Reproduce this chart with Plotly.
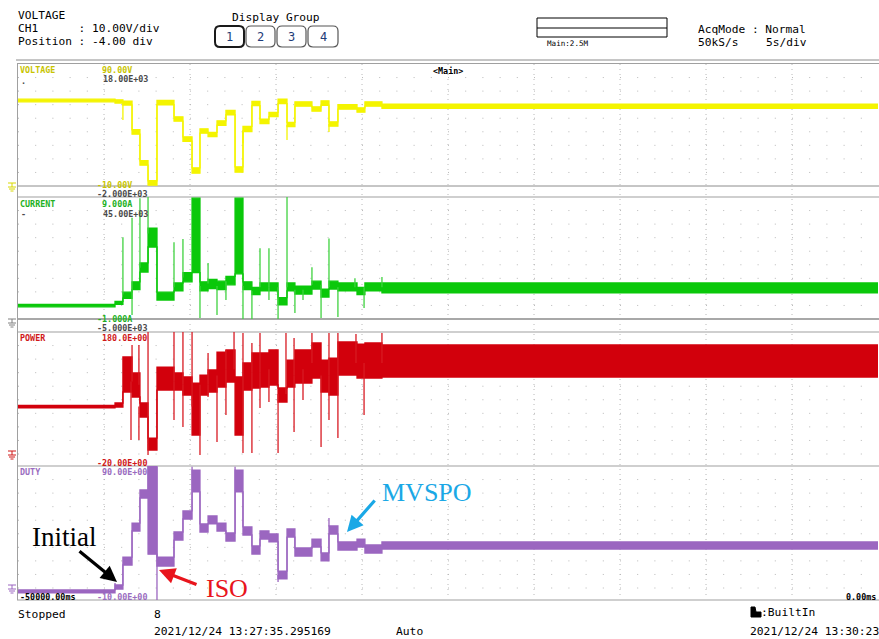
import plotly.graph_objects as go

W, H = 879, 639
MONO = "DejaVu Sans Mono"
SERIF = "Liberation Serif"

# ---------------- data ----------------
# switching instants [s] (segment start times), trigger at 0 s, 5 s/div
seg_t = [-50.00, -44.36, -43.90, -43.37, -42.91, -42.44, -41.92, -40.93, -40.41, -39.88,
         -39.42, -38.95, -38.43, -37.91, -37.38, -36.92, -36.40, -35.93, -35.41, -34.88,
         -34.36, -33.90, -32.91, -32.38, -31.92, -31.40, -30.29, -29.83, -28.84]
t_end = 0.0

# VOLTAGE [V] envelope per segment
volt_lo = [59.0, 58.0, 56.4, 32.5, 7.1, -9.3, 56.6, 43.1, 26.7, 0.5, 33.3, 30.4, 39.8, 48.4, 1.3,
           34.5, 55.8, 41.1, 46.8, 57.5, 38.6, 55.4, 51.3, 56.2, 39.0, 53.0, 50.5, 55.4, 53.6]
volt_hi = [61.2, 60.6, 59.6, 36.1, 10.7, -5.7, 60.2, 46.7, 30.3, 4.9, 36.9, 34.0, 43.4, 52.0, 5.7,
           38.9, 59.4, 44.7, 50.4, 61.1, 42.2, 59.0, 54.9, 59.8, 42.6, 56.6, 54.1, 59.0, 57.0]
volt_spk_t = [-43.90, -36.92, -34.36, -31.92]
volt_spk_from = [58.0, 36.0, 40.0, 40.8]
volt_spk_to = [44.0, 25.0, 27.7, 34.3]

# CURRENT [A]
curr_lo = [0.0, 0.2, 0.7, 1.4, 2.85, 4.9, 0.55, 1.3, 2.05, 2.8, 1.3, 1.5, 1.4, 1.8, 2.7,
           1.4, 1.0, 1.3, 1.3, 0.15, 1.3, 1.05, 1.45, 0.8, 1.45, 1.3, 1.0, 1.3, 1.15]
curr_hi = [0.2, 0.45, 1.2, 2.05, 3.6, 6.45, 1.2, 1.95, 2.8, 8.9, 2.05, 2.25, 2.1, 2.5, 8.9,
           2.05, 1.6, 1.95, 1.95, 0.75, 1.95, 1.7, 2.1, 1.45, 2.1, 1.95, 1.6, 1.95, 1.95]
curr_spk_t = [-43.90, -43.37, -43.37, -42.91, -42.44, -40.93, -40.41, -39.42, -38.95, -38.43,
              -37.91, -36.92, -36.40, -35.93, -35.41, -35.41, -34.88, -34.36, -33.90, -33.43,
              -32.91, -32.38, -31.92, -31.40, -30.41, -29.88, -28.84]
curr_spk_from = [1.0, 1.7, 1.7, 3.2, 6.0, 1.6, 2.4, 1.7, 1.9, 1.7, 2.1, 1.7, 1.3, 1.6, 1.6,
                 1.6, 1.6, 1.6, 1.4, 1.4, 1.8, 1.8, 1.6, 1.6, 1.6, 1.6, 1.6]
curr_spk_to = [5.7, 7.3, -0.67, 8.9, 9.0, 5.3, 5.55, -0.92, 3.6, -0.67, 0.55, -1.0, -1.0, 4.8,
               0.55, 4.8, -1.0, 9.0, -0.5, 0.55, 3.25, -0.92, 5.6, -0.84, 2.35, -0.1, 2.45]

# POWER [W]
pow_lo = [57.5, 59.0, 83.2, 75.2, 42.9, -10.3, 86.4, 86.4, 78.4, 13.9, 78.4, 83.2, 91.3, 99.4, 13.9,
          86.4, 89.7, 91.3, 94.5, 67.1, 91.3, 97.7, 105.8, 83.2, 78.4, 110.6, 105.8, 105.8, 107.4]
pow_hi = [61.5, 65.5, 139.7, 113.9, 65.5, 9.0, 123.5, 113.9, 107.4, 97.7, 110.6, 118.7, 147.7, 151.0, 107.4,
          130.0, 146.1, 146.1, 151.0, 89.7, 134.8, 151.0, 162.3, 134.8, 138.0, 163.9, 160.6, 162.3, 159.0]
pow_spk_t = [-43.43, -43.37, -42.97, -42.97, -42.44, -42.44, -40.93, -40.93, -40.41, -40.41,
             -39.88, -39.42, -38.95, -38.95, -38.43, -37.91, -37.91, -37.44, -36.92, -36.92,
             -36.40, -36.40, -35.93, -35.93, -35.41, -34.88, -34.42, -33.95, -33.95, -33.43,
             -32.91, -32.38, -31.92, -31.92, -31.40, -31.40, -30.35, -29.88, -28.84]
pow_spk_from = [100, 100, 95, 60, 0, 0, 100, 100, 95, 95, 60, 95, 95, 95, 110, 120, 120, 120, 110, 110,
                115, 115, 115, 115, 120, 80, 80, 110, 110, 120, 130, 110, 110, 110, 135, 135, 130, 130, 130]
pow_spk_to = [5.8, 159, 159, 5.8, 180, -18.4, 180, 38.1, 180, 26.8, 180, -18.4, 146.1, 75.2, 2.6,
              46.1, 151, 180, 178.4, -15.1, 162.3, -15.1, 178.4, 57.4, 67.1, -15.1, 178.4, 170.3,
              18.7, 70.3, 178.4, -5.4, 178.4, 38.1, 178.4, 9.0, 176.8, 46.1, 178.4]

# DUTY [%]
duty_lo = [-10.8, -7.7, 11.4, 38.4, 64.6, 20.0, 10.6, 31.2, 47.9, 69.4, 37.6, 44.0, 38.4, 30.4, 69.4,
           35.2, 20.1, 32.0, 29.7, 0.3, 33.6, 18.5, 25.7, 14.6, 36.0, 23.3, 25.7, 20.9, 24.1]
duty_hi = [-8.4, -4.5, 17.7, 44.7, 71.0, 89.5, 17.7, 37.6, 54.3, 86.8, 44.0, 50.3, 44.7, 36.8, 86.8,
           41.6, 26.5, 38.4, 36.0, 6.6, 40.0, 24.9, 32.0, 21.0, 42.4, 29.7, 32.0, 27.3, 29.7]
duty_spk_t = [-44.36, -42.44, -41.92, -39.88, -37.38, -34.88, -31.92]
duty_spk_from = [-8.4, 70, 89.5, 70, 70, 3.5, 42]
duty_spk_to = [-2.9, 90, -16.4, 89.5, 89.5, -2.1, 48.7]

# ---------------- helpers ----------------
def px(x):
    return x / W


def py(y):
    return 1 - y / H


fig = go.Figure()

channels = [
    ("y", volt_lo, volt_hi, "#f4f400", volt_spk_t, volt_spk_from, volt_spk_to, "#f4f400"),
    ("y2", curr_lo, curr_hi, "#0ac80a", curr_spk_t, curr_spk_from, curr_spk_to, "#3fd23f"),
    ("y3", pow_lo, pow_hi, "#d2000c", pow_spk_t, pow_spk_from, pow_spk_to, "#d81a22"),
    ("y4", duty_lo, duty_hi, "#9b66c0", duty_spk_t, duty_spk_from, duty_spk_to, "#9b66c0"),
]

for yax, lo, hi, col, st, sf, sto, scol in channels:
    xs = seg_t + [t_end]
    ylo = lo + [lo[-1]]
    yhi = hi + [hi[-1]]
    fig.add_trace(go.Scatter(x=xs, y=ylo, mode="lines", line=dict(color=col, width=1.3, shape="hv"),
                             xaxis="x", yaxis=yax, hoverinfo="skip"))
    fig.add_trace(go.Scatter(x=xs, y=yhi, mode="lines", line=dict(color=col, width=1.3, shape="hv"),
                             fill="tonexty", fillcolor=col, xaxis="x", yaxis=yax, hoverinfo="skip"))
    sx, sy = [], []
    for t, a, b in zip(st, sf, sto):
        sx += [t, t, None]
        sy += [a, b, None]
    fig.add_trace(go.Scatter(x=sx, y=sy, mode="lines", line=dict(color=scol, width=1.3),
                             xaxis="x", yaxis=yax, hoverinfo="skip"))

shapes = []
anns = []


def hline(y, x0, x1, color, width=1.0, dash="solid"):
    shapes.append(dict(type="line", xref="paper", yref="paper", x0=px(x0), x1=px(x1), y0=py(y), y1=py(y),
                       line=dict(color=color, width=width, dash=dash), layer="below"))


def vline(x, y0, y1, color, width=1.0, dash="solid"):
    shapes.append(dict(type="line", xref="paper", yref="paper", x0=px(x), x1=px(x), y0=py(y0), y1=py(y1),
                       line=dict(color=color, width=width, dash=dash), layer="below"))


def text(s, x, y, size=11.2, color="#000000", anchor="left", family=MONO):
    anns.append(dict(text=s, x=px(x), y=py(y), xref="paper", yref="paper", xanchor=anchor, yanchor="middle",
                     showarrow=False, font=dict(family=family, size=size, color=color), borderpad=0))


def rrect(x0, y0, x1, y1, r, color, width):
    p = (f"M{px(x0 + r)},{py(y0)} L{px(x1 - r)},{py(y0)} Q{px(x1)},{py(y0)} {px(x1)},{py(y0 + r)} "
         f"L{px(x1)},{py(y1 - r)} Q{px(x1)},{py(y1)} {px(x1 - r)},{py(y1)} L{px(x0 + r)},{py(y1)} "
         f"Q{px(x0)},{py(y1)} {px(x0)},{py(y1 - r)} L{px(x0)},{py(y0 + r)} Q{px(x0)},{py(y0)} {px(x0 + r)},{py(y0)} Z")
    shapes.append(dict(type="path", xref="paper", yref="paper", path=p, line=dict(color=color, width=width)))


def ground(y, color):
    shapes.append(dict(type="line", xref="paper", yref="paper", x0=px(8), x1=px(16), y0=py(y), y1=py(y),
                       line=dict(color=color, width=1)))
    shapes.append(dict(type="line", xref="paper", yref="paper", x0=px(12), x1=px(12), y0=py(y), y1=py(y + 4),
                       line=dict(color=color, width=1)))
    for dy, half in ((4, 4), (6, 3), (8, 1.5)):
        shapes.append(dict(type="line", xref="paper", yref="paper", x0=px(12 - half), x1=px(12 + half),
                           y0=py(y + dy), y1=py(y + dy), line=dict(color=color, width=1)))


# ---------------- grid & frames ----------------
GRID = "#b8b8b8"
panel_tops = [64, 197, 332, 466]
panel_rows = [8, 8, 9, 9]
for top, nrow in zip(panel_tops, panel_rows):
    for k in range(1, nrow + 1):
        hline(top + k * 122 / 9, 18, 878, GRID, 1, "1px,16.2px")
for k in range(1, 10):
    vline(18 + 86 * k, 64, 600, GRID, 1, "1px,4px")

hline(63.5, 17, 879, "#a0a0a0", 1)
hline(186, 17, 879, "#8c8c8c", 1)
hline(197, 17, 879, "#cfcfcf", 2)
hline(319, 17, 879, "#a8a8a8", 2)
hline(332, 17, 879, "#cfcfcf", 2)
hline(466, 17, 879, "#cfcfcf", 2)
hline(600, 17, 879, "#cfcfcf", 2)
vline(17.5, 63.5, 600, "#a0a0a0", 1)
hline(60, 16, 879, "#8c8c8c", 1)

ground(183, "#d8d800")
ground(319, "#808080")
ground(451, "#d01818")
ground(585, "#9b66c0")

# ---------------- header ----------------
text("VOLTAGE", 17, 15.5)
text("CH1      : 10.00V/div", 17, 28.5)
text("Position : -4.00 div", 17, 41.5)
text("Display Group", 231, 17)
boxes = [(215, 26, 244, 47), (246, 26, 275, 47), (277, 26, 306, 47), (308, 26, 338, 47)]
for i, (x0, y0, x1, y1) in enumerate(boxes):
    rrect(x0, y0, x1, y1, 5, "#1a1a1a" if i == 0 else "#555555", 2 if i == 0 else 1.2)
    text(str(i + 1), (x0 + x1) / 2, 36.5, 12, "#1e3c78", "center")
shapes.append(dict(type="rect", xref="paper", yref="paper", x0=px(537), x1=px(667), y0=py(18), y1=py(37),
                   line=dict(color="#000000", width=1)))
hline(28, 537, 667, "#000000", 1)
text("Main:2.5M", 546, 43.5, 7.6)
text("AcqMode : Normal", 697, 29.5, 11.2)
text("50kS/s", 697, 42, 11.2)
text("5s/div", 765, 42, 11.2)

# ---------------- panel labels ----------------
S = 8.4
YEL, GRY, GRN, RED, PUR = "#c8c400", "#4a4a4a", "#22b022", "#d01818", "#9a6cc0"
text("<b>VOLTAGE</b>", 19, 69.5, S, YEL)
text("<b>90.00V</b>", 101, 69.5, S, YEL)
text("<b>18.00E+03</b>", 102, 78.5, S, GRY)
text("<b>.</b>", 20, 81, S, GRY)
text("<b>-10.00V</b>", 96, 184.5, S, YEL)
text("<b>-2.000E+03</b>", 96, 194, S, GRY)
text("<b>CURRENT</b>", 19, 203.5, S, GRN)
text("<b>9.000A</b>", 101, 203.5, S, GRN)
text("<b>45.00E+03</b>", 102, 213.5, S, GRY)
text("<b>-</b>", 20, 214, S, GRY)
text("<b>-1.000A</b>", 96, 318.5, S, GRN)
text("<b>-5.000E+03</b>", 96, 327.5, S, GRY)
text("<b>POWER</b>", 19, 337.5, S, RED)
text("<b>180.0E+00</b>", 101, 337.5, S, RED)
text("<b>-20.00E+00</b>", 96, 463, S, RED)
text("<b>DUTY</b>", 19, 471.5, S, PUR)
text("<b>90.00E+00</b>", 101, 471.5, S, PUR)
text("<b>-10.00E+00</b>", 96, 596.5, S, PUR)
text("<b>-50000.00ms</b>", 19, 596.5, S, "#000000")
text("<b>0.00ms</b>", 877, 596.5, S, "#000000", "right")
text("<b>&lt;Main&gt;</b>", 432, 71.5, S, "#000000")

# ---------------- footer ----------------
text("Stopped", 17, 614.5, 11.3)
text("8", 153, 614.5, 11.3)
text("2021/12/24 13:27:35.295169", 153, 631.5, 11.3)
text("Auto", 395, 631.5, 11.3)
shapes.append(dict(type="path", xref="paper", yref="paper",
                   path=f"M{px(751)},{py(617)} L{px(761)},{py(617)} L{px(761)},{py(612)} L{px(756)},{py(612)} "
                        f"L{px(755)},{py(607)} L{px(751)},{py(607)} Z",
                   fillcolor="#000000", line=dict(color="#000000", width=1)))
text(":BuiltIn", 760, 612, 11.3)
text("2021/12/24 13:30:23", 749, 631.5, 11.3)

# ---------------- annotations with arrows ----------------
text("Initial", 64, 537, 27, "#000000", "center", SERIF)
text("ISO", 227, 588, 26, "#e8141c", "center", SERIF)
text("MVSPO", 427, 492, 26, "#1aa8e6", "center", SERIF)
for hx, hy, ax, ay, col in ((117, 582, -39, -32, "#000000"), (159, 570, 39, 15, "#e8141c"),
                            (347, 532, 29, -33, "#1aa8e6")):
    anns.append(dict(x=px(hx), y=py(hy), xref="paper", yref="paper", ax=ax, ay=ay, text="",
                     showarrow=True, arrowhead=2, arrowsize=1.0, arrowwidth=3.2, arrowcolor=col, standoff=0))

ax_common = dict(visible=False, showgrid=False, zeroline=False, fixedrange=True)
fig.update_layout(
    width=W, height=H, margin=dict(l=0, r=0, t=0, b=0),
    paper_bgcolor="#ffffff", plot_bgcolor="rgba(0,0,0,0)", showlegend=False, hovermode=False,
    xaxis=dict(domain=[px(18), px(878)], range=[-50, 0], **ax_common),
    yaxis=dict(domain=[py(186), py(64)], range=[-10, 90], anchor="x", **ax_common),
    yaxis2=dict(domain=[py(319), py(197)], range=[-1, 9], anchor="x", **ax_common),
    yaxis3=dict(domain=[py(466), py(332)], range=[-36.1, 180], anchor="x", **ax_common),
    yaxis4=dict(domain=[py(600), py(466)], range=[-16.4, 90], anchor="x", **ax_common),
    shapes=shapes, annotations=anns,
)

fig.write_html("out.html")
